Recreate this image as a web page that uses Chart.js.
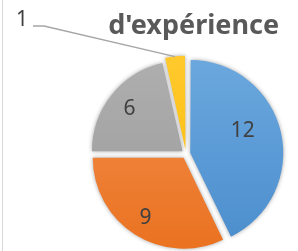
<!DOCTYPE html>
<html>
<head>
<meta charset="utf-8">
<script src="https://cdn.jsdelivr.net/npm/chart.js@4.4.1/dist/chart.umd.min.js"></script>
<style>
  body { margin: 0; background: #fff; }
  #wrap { position: relative; width: 298px; height: 251px; }
  #frame { position: absolute; left: 2px; top: 0; width: 1px; height: 251px; background: #d9d9d9; }
</style>
</head>
<body>
<div id="wrap">
  <canvas id="pieChart" width="298" height="251"></canvas>
  <div id="frame"></div>
</div>
<script>
const titleText = "d'expérience";
const categories = ['A', 'B', 'C', 'D'];
const values = [12, 9, 6, 1];
const lightColors = ['#6ba8de', '#f2904f', '#afafaf', '#ffc92e'];
const darkColors = ['#4b8dcd', '#ea711f', '#9a9a9a', '#fdba00'];

// label placement per slice: fraction of radius and angle nudge (deg); outside = leader line
const labelPos = [
  { r: 0.63, da: -10 },
  { r: 0.79, da: 0 },
  { r: 0.75, da: 0 },
  { outside: true, x: 22, y: 20, bend: [33, 26, 44, 26] }
];

// one gradient per slice, light at the top of the pie, darker at the bottom
const sliceFill = (ctx) => {
  const i = ctx.dataIndex;
  const area = ctx.chart.chartArea;
  if (!area) return lightColors[i];
  const g = ctx.chart.ctx.createLinearGradient(0, area.top, 0, area.bottom);
  g.addColorStop(0, lightColors[i]);
  g.addColorStop(1, darkColors[i]);
  return g;
};

const shadowPlugin = {
  id: 'shadow',
  beforeDatasetsDraw(chart) {
    const c = chart.ctx;
    c.save();
    c.shadowColor = 'rgba(0,0,0,0.35)';
    c.shadowBlur = 4;
    c.shadowOffsetX = 0;
    c.shadowOffsetY = 0;
  },
  afterDatasetsDraw(chart) {
    chart.ctx.restore();
  }
};

const labelPlugin = {
  id: 'pieLabels',
  afterDraw(chart) {
    const c = chart.ctx;
    const meta = chart.getDatasetMeta(0);
    c.save();
    c.font = '21px "Noto Sans"';
    c.fillStyle = '#404040';
    c.textAlign = 'center';
    c.textBaseline = 'middle';
    meta.data.forEach((arc, i) => {
      const p = arc.getProps(['x', 'y', 'startAngle', 'endAngle', 'outerRadius']);
      const mid = (p.startAngle + p.endAngle) / 2;
      const off = (arc.options.offset || 0) / 4;
      const cx = p.x + Math.cos(mid) * off;
      const cy = p.y + Math.sin(mid) * off;
      const lp = labelPos[i];
      if (lp.outside) {
        const ex = cx + Math.cos(mid) * (p.outerRadius + 3);
        const ey = cy + Math.sin(mid) * (p.outerRadius + 3);
        c.strokeStyle = '#a6a6a6';
        c.lineWidth = 1.3;
        c.beginPath();
        c.moveTo(lp.bend[0], lp.bend[1]);
        c.lineTo(lp.bend[2], lp.bend[3]);
        c.lineTo(ex, ey);
        c.stroke();
        c.fillText(String(values[i]), lp.x, lp.y);
      } else {
        const a = mid + lp.da * Math.PI / 180;
        c.fillText(String(values[i]), cx + Math.cos(a) * p.outerRadius * lp.r, cy + Math.sin(a) * p.outerRadius * lp.r);
      }
    });
    c.font = 'bold 27px "Noto Sans"';
    c.fillStyle = '#595959';
    c.textAlign = 'right';
    c.textBaseline = 'alphabetic';
    c.fillText(titleText, 279, 34);
    c.restore();
  }
};

new Chart(document.getElementById('pieChart'), {
  type: 'pie',
  data: {
    labels: categories,
    datasets: [{
      data: values,
      backgroundColor: sliceFill,
      borderWidth: 0,
      offset: 17.6,
      radius: 90.5
    }]
  },
  options: {
    responsive: false,
    animation: false,
    layout: { padding: { left: 90, right: 16, top: 57, bottom: 0 } },
    plugins: {
      legend: { display: false },
      tooltip: { enabled: false },
      title: { display: false }
    }
  },
  plugins: [shadowPlugin, labelPlugin]
});
</script>
</body>
</html>
